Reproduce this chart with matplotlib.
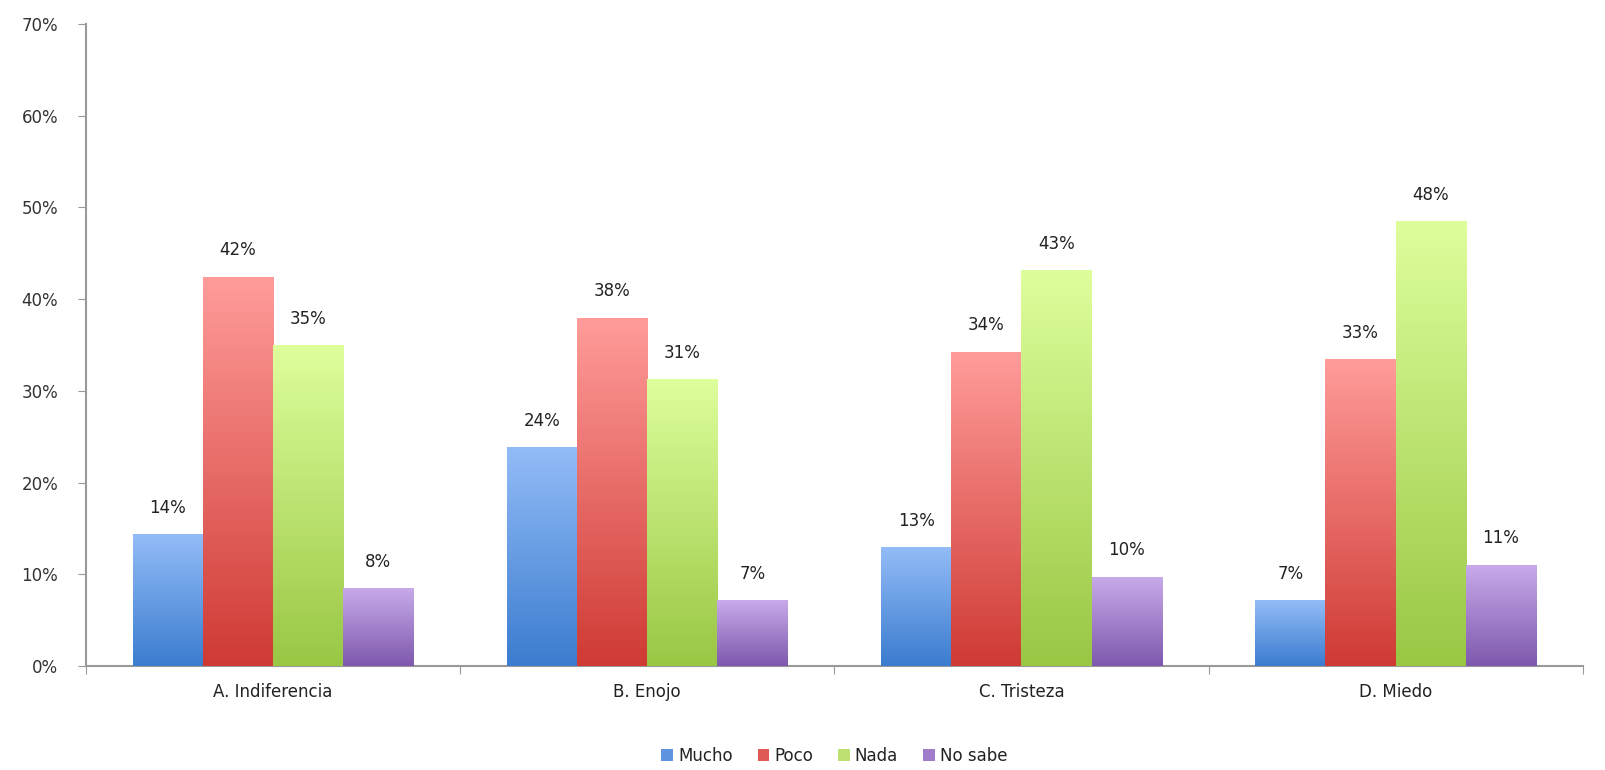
import matplotlib
matplotlib.use('Agg')
import matplotlib.pyplot as plt
import numpy as np
from matplotlib.colors import LinearSegmentedColormap
from matplotlib.ticker import FuncFormatter

plt.rcParams['font.family'] = ['DejaVu Sans']

# Datos
categorias = ['A. Indiferencia', 'B. Enojo', 'C. Tristeza', 'D. Miedo']
series = ['Mucho', 'Poco', 'Nada', 'No sabe']
mucho = [14.3, 23.8, 12.9, 7.1]
poco = [42.4, 37.9, 34.2, 33.4]
nada = [34.9, 31.2, 43.1, 48.4]
no_sabe = [8.4, 7.1, 9.7, 11.0]
valores = [mucho, poco, nada, no_sabe]

# colores (arriba, abajo) del degradado
degradados = [('#93bcf7', '#3b7ccf'),
              ('#ff9c9a', '#cf3a34'),
              ('#defe9c', '#99c744'),
              ('#c8aaea', '#7e58ad')]
medios = ['#5f95e0', '#e05a55', '#bde070', '#a07ccb']

fig = plt.figure(figsize=(16.06, 7.70), dpi=100)
ax = fig.add_axes([0.0535, 0.135, 0.932, 0.834])

x = np.arange(len(categorias))
ancho = 0.1875
for i, (serie, vals) in enumerate(zip(series, valores)):
    pos = x + (i - 1.5) * ancho
    barras = ax.bar(pos, vals, width=ancho, color=medios[i], label=serie, zorder=2)
    cmap = LinearSegmentedColormap.from_list('g%d' % i, [degradados[i][1], degradados[i][0]])
    grad = np.linspace(0, 1, 256).reshape(-1, 1)
    for b, v in zip(barras, vals):
        ax.imshow(grad, extent=[b.get_x(), b.get_x() + b.get_width(), 0, v],
                  origin='lower', aspect='auto', cmap=cmap, zorder=3)
        ax.annotate(f'{round(v)}%', (b.get_x() + b.get_width() / 2, v),
                    xytext=(0, 13), textcoords='offset points',
                    ha='center', va='bottom', fontsize=12, color='#222222')

ax.set_xlim(-0.5, len(categorias) - 0.5)
ax.set_ylim(0, 70)
ax.set_yticks(np.arange(0, 71, 10))
ax.yaxis.set_major_formatter(FuncFormatter(lambda v, p: f'{int(v)}%'))

# ticks del eje x en los límites de categoría, etiquetas en el centro
ax.set_xticks(np.arange(-0.5, len(categorias), 1))
ax.set_xticklabels([])
ax.set_xticks(x, minor=True)
ax.set_xticklabels(categorias, minor=True)
ax.tick_params(axis='x', which='minor', length=0, pad=12, labelsize=12,
               labelcolor='#222222')
ax.tick_params(axis='x', which='major', length=6, color='#999999')
ax.tick_params(axis='y', length=6, color='#999999', labelsize=12, pad=14,
               labelcolor='#333333')

for s in ['top', 'right']:
    ax.spines[s].set_visible(False)
for s in ['left', 'bottom']:
    ax.spines[s].set_color('#999999')
    ax.spines[s].set_linewidth(1.5)

leg = ax.legend(loc='lower center', bbox_to_anchor=(0.5, -0.177), ncol=4, frameon=False,
                fontsize=12, handlelength=0.7, handleheight=0.7, handletextpad=0.3,
                columnspacing=1.5)
for t in leg.get_texts():
    t.set_color('#222222')

fig.savefig('out.png', dpi=100)
